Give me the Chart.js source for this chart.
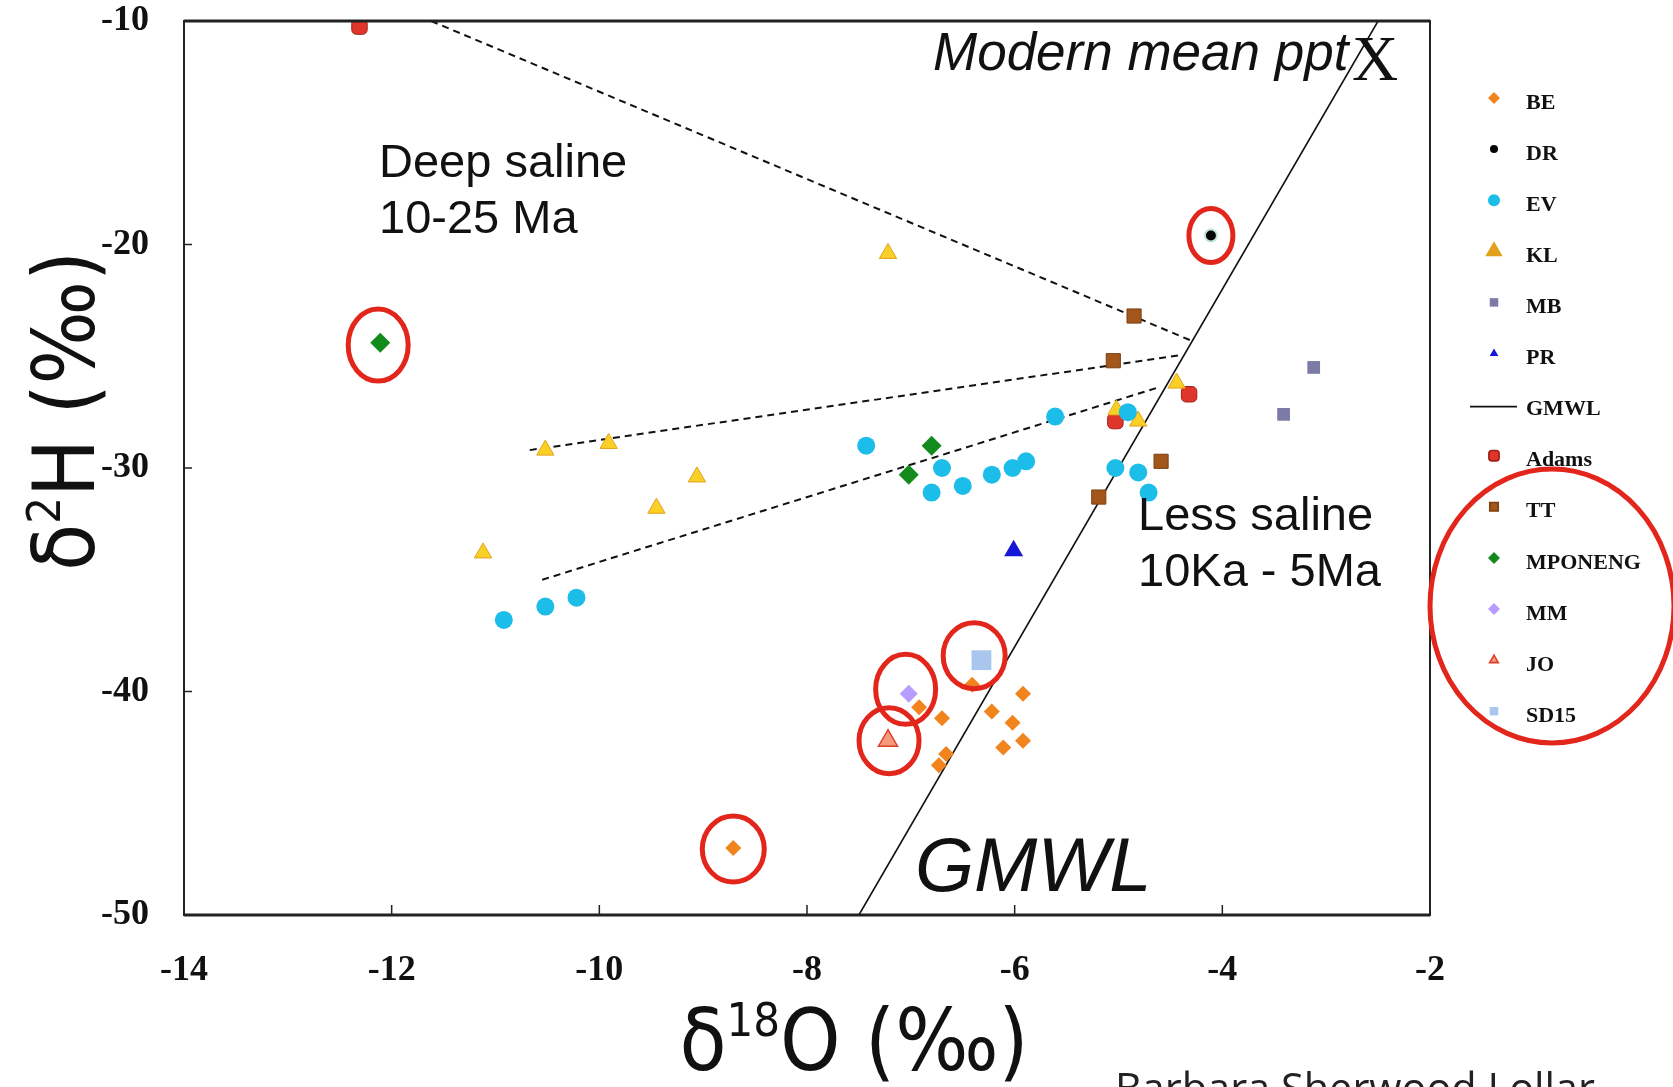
<!DOCTYPE html>
<html lang="en">
<head>
<meta charset="UTF-8" />
<title>δ2H vs δ18O</title>
<script src="https://cdn.jsdelivr.net/npm/chart.js@4.4.1/dist/chart.umd.min.js"></script>
<style>
  html, body { margin: 0; padding: 0; background: #fff; }
  #wrap { position: relative; width: 1673px; height: 1087px; }
</style>
</head>
<body>
<div id="wrap"><canvas id="chart" width="1673" height="1087"></canvas></div>
<script>
// ---- data (δ18O, δ2H in ‰) ----
const beX = [-6.41, -6.92, -6.70, -6.22, -5.92, -6.02, -5.92, -6.11, -6.66, -6.73, -8.71];
const beY = [-39.7, -40.7, -41.2, -40.9, -40.1, -41.4, -42.2, -42.5, -42.8, -43.3, -47.0];
const drX = [-4.11];
const drY = [-19.6];
const evX = [-7.43, -6.70, -6.80, -6.50, -6.22, -6.02, -5.89, -5.61, -4.91, -5.03, -4.81, -4.71, -10.92, -10.52, -10.22];
const evY = [-29.0, -30.0, -31.1, -30.8, -30.3, -30.0, -29.7, -27.7, -27.5, -30.0, -30.2, -31.1, -36.8, -36.2, -35.8];
const klX = [-7.22, -10.52, -9.91, -9.06, -9.45, -11.12, -4.44, -5.02, -4.81];
const klY = [-20.4, -29.2, -28.9, -30.4, -31.8, -33.8, -26.2, -27.4, -27.9];
const mbX = [-3.41, -3.12];
const mbY = [-27.6, -25.5];
const prX = [-6.01];
const prY = [-33.7];
const adamsX = [-12.31, -4.32, -5.03];
const adamsY = [-10.25, -26.7, -27.9];
const ttX = [-4.85, -5.05, -4.59, -5.19];
const ttY = [-23.2, -25.2, -29.7, -31.3];
const mponengX = [-6.80, -7.02, -12.11];
const mponengY = [-29.0, -30.3, -24.4];
const mmX = [-7.02];
const mmY = [-40.1];
const joX = [-7.22];
const joY = [-42.2];
const sd15X = [-6.32];
const sd15Y = [-38.6];

// meteoric water line and the three mixing lines
const gmwlX = [-7.5, -2.5];
const gmwlY = [-50, -10];
const mixAX = [-11.62, -4.30], mixAY = [-10, -24.3];
const mixBX = [-10.67, -4.40], mixBY = [-29.2, -24.95];
const mixCX = [-10.55, -4.62], mixCY = [-35.0, -26.4];

// samples ringed in red
const ringX = [-4.11, -12.13, -6.39, -7.05, -7.21, -8.71];
const ringY = [-19.6, -24.5, -38.4, -39.9, -42.2, -47.05];

const xTicks = [-14, -12, -10, -8, -6, -4, -2];
const yTicks = [-10, -20, -30, -40, -50];
const legendOrder = ['BE', 'DR', 'EV', 'KL', 'MB', 'PR', 'GMWL', 'Adams', 'TT', 'MPONENG', 'MM', 'JO', 'SD15'];

const pts = (xs, ys) => xs.map((x, i) => ({ x, y: ys[i] }));

function sym(label, xs, ys, style, fill, border, r, bw) {
  return {
    label, data: pts(xs, ys), type: 'scatter', order: 1,
    pointStyle: style, backgroundColor: fill, borderColor: border,
    pointRadius: r, pointBorderWidth: bw, pointHoverRadius: r
  };
}
function line(label, xs, ys, dash, w) {
  return {
    label, data: pts(xs, ys), type: 'scatter', showLine: true, order: 5,
    borderColor: '#111', borderWidth: w, borderDash: dash, pointRadius: 0,
    fill: false, clip: 0
  };
}

const datasets = [
  line('GMWL', gmwlX, gmwlY, [], 1.6),
  line('mixA', mixAX, mixAY, [7, 5], 2),
  line('mixB', mixBX, mixBY, [7, 5], 2),
  line('mixC', mixCX, mixCY, [7, 5], 2),
  sym('EV', evX, evY, 'circle', '#1cbde9', '#1cbde9', 9, 0),
  sym('KL', klX, klY, 'triangle', '#fbd026', '#e0a21a', 10, 1),
  sym('TT', ttX, ttY, 'rect', '#a3561c', '#7d3f10', 10, 1),
  sym('MB', mbX, mbY, 'rect', '#7c7aa6', '#7c7aa6', 9, 0),
  sym('Adams', adamsX, adamsY, 'rectRounded', '#e0352b', '#a02018', 9, 1),
  sym('MPONENG', mponengX, mponengY, 'rectRot', '#138a1c', '#138a1c', 10, 0),
  sym('PR', prX, prY, 'triangle', '#1616d6', '#1616d6', 11, 0),
  sym('BE', beX, beY, 'rectRot', '#f2841e', '#f2841e', 8, 0),
  sym('MM', mmX, mmY, 'rectRot', '#b99cff', '#b99cff', 9, 0),
  sym('JO', joX, joY, 'triangle', '#f59a7c', '#e0402a', 11, 1.5),
  sym('SD15', sd15X, sd15Y, 'rect', '#a9c7ee', '#a9c7ee', 14, 0),
  sym('DR', drX, drY, 'circle', '#050505', '#bfe4d2', 6, 2)
];

// draw "δ" + superscript text, stretched to a target width
function richText(ctx, parts, size, family, targetW) {
  const supSize = Math.round(size * 0.55);
  let w = 0;
  const widths = parts.map(p => {
    ctx.font = (p.sup ? supSize : size) + 'px ' + family;
    const m = ctx.measureText(p.t).width;
    w += m;
    return m;
  });
  const sx = targetW ? targetW / w : 1;
  ctx.save();
  ctx.scale(sx, 1);
  let x = -w / 2;
  ctx.textBaseline = 'alphabetic';
  ctx.textAlign = 'left';
  parts.forEach((p, i) => {
    ctx.font = (p.sup ? supSize : size) + 'px ' + family;
    ctx.fillText(p.t, x, p.sup ? -size * 0.4 : 0);
    x += widths[i];
  });
  ctx.restore();
}

function ellipse(ctx, cx, cy, rx, ry) {
  ctx.beginPath();
  ctx.ellipse(cx, cy, rx, ry, 0, 0, Math.PI * 2);
  ctx.stroke();
}

const decor = {
  id: 'decor',
  afterDraw(chart) {
    const { ctx, chartArea: a, scales: { x, y } } = chart;
    ctx.save();

    // frame
    ctx.strokeStyle = '#222';
    ctx.lineWidth = 2;
    ctx.strokeRect(a.left, a.top, a.right - a.left, a.bottom - a.top);
    ctx.lineWidth = 3;
    ctx.beginPath();
    ctx.moveTo(a.left, a.bottom); ctx.lineTo(a.right, a.bottom);
    ctx.moveTo(a.left, a.top); ctx.lineTo(a.right, a.top);
    ctx.stroke();

    // inward tick marks
    ctx.lineWidth = 1.5;
    ctx.beginPath();
    xTicks.forEach(v => { const px = x.getPixelForValue(v); ctx.moveTo(px, a.bottom); ctx.lineTo(px, a.bottom - 10); });
    yTicks.forEach(v => { const py = y.getPixelForValue(v); ctx.moveTo(a.left, py); ctx.lineTo(a.left + 8, py); });
    ctx.stroke();

    // annotations
    ctx.fillStyle = '#111';
    ctx.textAlign = 'left';
    ctx.textBaseline = 'alphabetic';
    ctx.font = 'italic 53px "Liberation Sans", Arial, sans-serif';
    ctx.fillText('Modern mean ppt', 933, 70);
    ctx.font = '64px "Liberation Serif", "Times New Roman", serif';
    ctx.fillText('X', 1352, 80);
    ctx.font = '47px "Liberation Sans", Arial, sans-serif';
    ctx.fillText('Deep saline', 379, 177);
    ctx.fillText('10-25 Ma', 379, 233);
    ctx.fillText('Less saline', 1138, 530);
    ctx.fillText('10Ka - 5Ma', 1138, 586);
    ctx.font = 'italic 76px "Liberation Sans", Arial, sans-serif';
    ctx.fillText('GMWL', 915, 891);

    // red rings around highlighted samples
    ctx.strokeStyle = '#e3261b';
    ctx.lineWidth = 5;
    const ringR = [[22, 27], [30, 36], [31, 33], [30, 35], [30, 33], [31, 33]];
    ringX.forEach((v, i) => {
      ellipse(ctx, x.getPixelForValue(v), y.getPixelForValue(ringY[i]), ringR[i][0], ringR[i][1]);
    });

    // legend
    const lx = 1494, tx = 1526, ly0 = 102, dy = 51.1;
    ctx.font = 'bold 22px "Liberation Serif", "Times New Roman", serif';
    ctx.textBaseline = 'middle';
    legendOrder.forEach((name, i) => {
      const ly = ly0 + i * dy;
      const ds = chart.data.datasets.find(d => d.label === name);
      ctx.fillStyle = '#111';
      ctx.fillText(name, tx, ly + 1);
      if (name === 'GMWL') {
        ctx.strokeStyle = '#111';
        ctx.lineWidth = 1.6;
        ctx.beginPath(); ctx.moveTo(1470, ly - 2); ctx.lineTo(1517, ly - 2); ctx.stroke();
        return;
      }
      const isDR = name === 'DR';
      ctx.fillStyle = isDR ? '#050505' : ds.backgroundColor;
      ctx.strokeStyle = ds.borderColor;
      Chart.helpers.drawPoint(ctx, {
        pointStyle: ds.pointStyle, radius: isDR ? 4 : (ds.pointStyle === 'triangle' ? 5 : 6),
        rotation: 0, borderWidth: ds.pointBorderWidth && !isDR ? 1 : 0
      }, lx, ly - 4);
    });

    // ring around the newer legend entries
    ctx.strokeStyle = '#e3261b';
    ctx.lineWidth = 5;
    ellipse(ctx, 1552, 606, 122, 137);

    // axis titles
    ctx.fillStyle = '#111';
    const fam = '"Liberation Sans Narrow", "DejaVu Sans Condensed", sans-serif';
    ctx.save();
    ctx.translate(854, 1070);
    richText(ctx, [{ t: 'δ' }, { t: '18', sup: true }, { t: 'O (‰)' }], 86, fam, 349);
    ctx.restore();
    ctx.save();
    ctx.translate(94, 411);
    ctx.rotate(-Math.PI / 2);
    richText(ctx, [{ t: 'δ' }, { t: '2', sup: true }, { t: 'H (‰)' }], 86, fam, 320);
    ctx.restore();

    // credit line, cut by the bottom edge
    ctx.save();
    ctx.font = '42px "Open Sans", sans-serif';
    ctx.textAlign = 'left';
    ctx.textBaseline = 'alphabetic';
    const cw = ctx.measureText('Barbara Sherwood Lollar').width;
    ctx.translate(1115, 1103);
    ctx.scale(480 / cw, 1);
    ctx.fillStyle = '#222';
    ctx.fillText('Barbara Sherwood Lollar', 0, 0);
    ctx.restore();

    ctx.restore();
  }
};

const tickFont = { family: '"Liberation Serif", "Times New Roman", serif', size: 36, weight: 'bold' };

new Chart(document.getElementById('chart'), {
  type: 'scatter',
  data: { datasets },
  options: {
    responsive: false,
    animation: false,
    devicePixelRatio: 1,
    layout: { padding: { left: 0, top: 21, right: 243, bottom: 0 } },
    plugins: { legend: { display: false }, tooltip: { enabled: false } },
    scales: {
      x: {
        type: 'linear', min: -14, max: -2,
        grid: { display: false, drawTicks: false },
        border: { display: false },
        ticks: { stepSize: 2, padding: 34, color: '#111', font: tickFont },
        afterFit: s => { s.height = 172; s.paddingLeft = 0; s.paddingRight = 0; }
      },
      y: {
        type: 'linear', min: -50, max: -10,
        grid: { display: false, drawTicks: false },
        border: { display: false },
        ticks: { stepSize: 10, padding: 35, color: '#111', font: tickFont },
        afterFit: s => { s.width = 184; s.paddingTop = 0; s.paddingBottom = 0; }
      }
    }
  },
  plugins: [decor]
});
</script>
</body>
</html>
